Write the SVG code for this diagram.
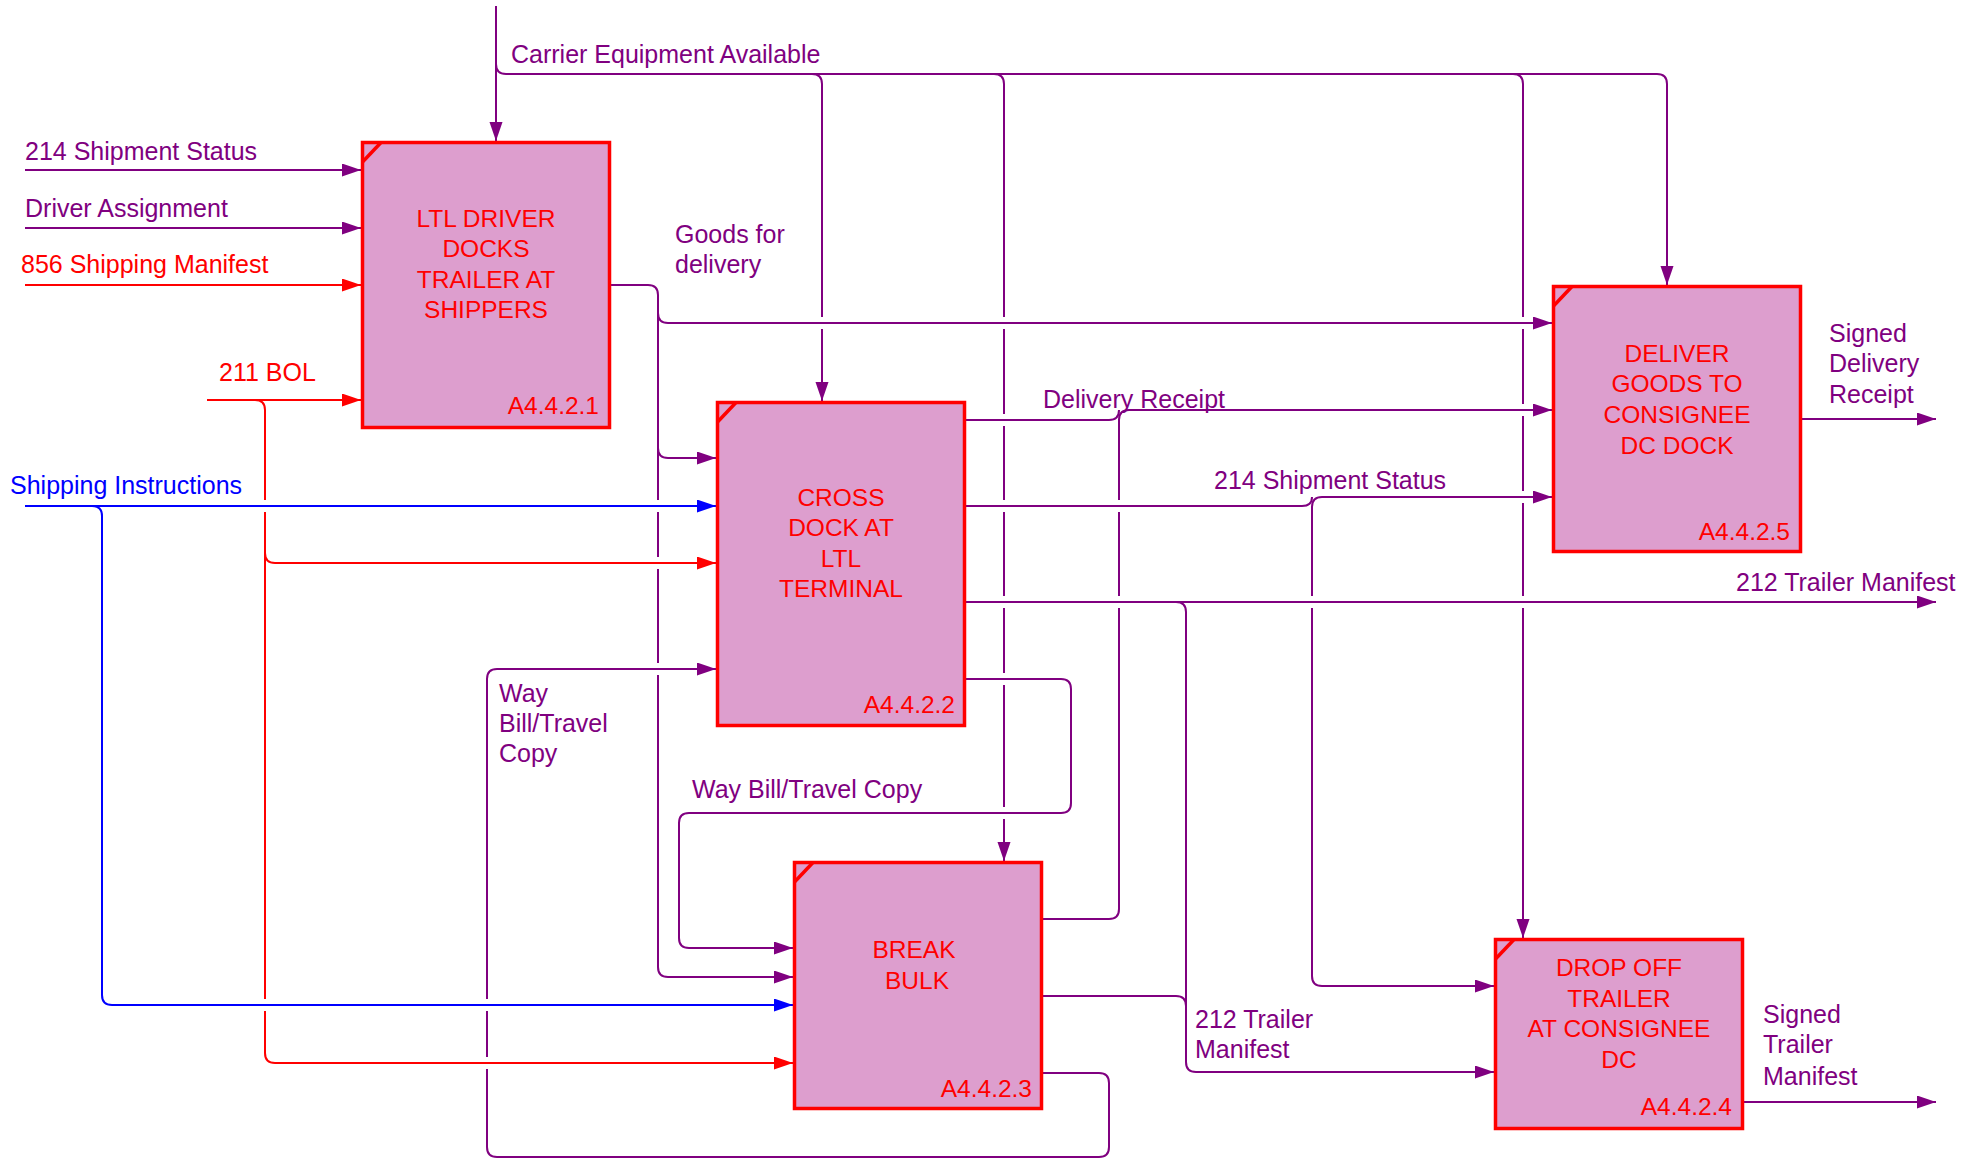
<svg xmlns="http://www.w3.org/2000/svg" width="1981" height="1159" viewBox="0 0 1981 1159">
<style>
.box{fill:#DD9ECE;stroke:#FF0000;stroke-width:3.5}
.cor{fill:none;stroke:#FF0000;stroke-width:3.5}
.bt{font-family:"Liberation Sans",Arial,sans-serif;font-size:24.5px;fill:#FF0000;text-anchor:middle}
.bn{font-family:"Liberation Sans",Arial,sans-serif;font-size:24.5px;fill:#FF0000;text-anchor:end}
.lb{font-family:"Liberation Sans",Arial,sans-serif;font-size:25px;fill:#800080}
.lr{fill:#FF0000}
.lbl{fill:#0000FF}
.p{fill:none;stroke:#800080;stroke-width:2}
.r{fill:none;stroke:#FF0000;stroke-width:2}
.b{fill:none;stroke:#0000FF;stroke-width:2}
.gap{stroke:#FFFFFF;stroke-width:5}
</style>
<defs>
<marker id="ap" markerUnits="userSpaceOnUse" markerWidth="20" markerHeight="14" refX="19" refY="6.5" orient="auto"><path d="M0,0 L19,6.5 L0,13 z" fill="#800080"/></marker>
<marker id="ar" markerUnits="userSpaceOnUse" markerWidth="20" markerHeight="14" refX="19" refY="6.5" orient="auto"><path d="M0,0 L19,6.5 L0,13 z" fill="#FF0000"/></marker>
<marker id="ab" markerUnits="userSpaceOnUse" markerWidth="20" markerHeight="14" refX="19" refY="6.5" orient="auto"><path d="M0,0 L19,6.5 L0,13 z" fill="#0000FF"/></marker>
</defs>
<rect width="1981" height="1159" fill="#FFFFFF"/>

<g id="connectors">
<!-- Carrier Equipment Available -->
<path class="p" d="M496,6 V141" marker-end="url(#ap)"/>
<path class="p" d="M496,64 Q496,74 506,74 H1657 Q1667,74 1667,84 V285" marker-end="url(#ap)"/>
<path class="p" d="M812,74 Q822,74 822,84 V401" marker-end="url(#ap)"/>
<path class="p" d="M994,74 Q1004,74 1004,84 V861" marker-end="url(#ap)"/>
<path class="p" d="M1513,74 Q1523,74 1523,84 V938" marker-end="url(#ap)"/>
<!-- Goods for delivery -->
<path class="p" d="M611,285 H648 Q658,285 658,295 V967 Q658,977 668,977 H793" marker-end="url(#ap)"/>
<path class="p" d="M658,313 Q658,323 668,323 H1552" marker-end="url(#ap)"/>
<path class="p" d="M658,448 Q658,458 668,458 H716" marker-end="url(#ap)"/>
<!-- Delivery Receipt -->
<path class="p" d="M965,420 H1109 Q1119,420 1119,410"/>
<path class="p" d="M1042,919 H1109 Q1119,919 1119,909 V420 Q1119,410 1129,410 H1552" marker-end="url(#ap)"/>
<!-- 214 Shipment Status out -->
<path class="p" d="M965,506 H1302 Q1312,506 1312,497"/>
<path class="p" d="M1312,507 Q1312,497 1322,497 H1552" marker-end="url(#ap)"/>
<path class="p" d="M1312,507 V976 Q1312,986 1322,986 H1494" marker-end="url(#ap)"/>
<!-- 212 Trailer Manifest -->
<path class="p" d="M965,602 H1936" marker-end="url(#ap)"/>
<path class="p" d="M1176,602 Q1186,602 1186,612 V1062 Q1186,1072 1196,1072 H1494" marker-end="url(#ap)"/>
<path class="p" d="M1042,996 H1176 Q1186,996 1186,1006"/>
<!-- Way Bill/Travel Copy -->
<path class="p" d="M965,679 H1061 Q1071,679 1071,689 V803 Q1071,813 1061,813 H689 Q679,813 679,823 V938 Q679,948 689,948 H793" marker-end="url(#ap)"/>
<path class="p" d="M1042,1073 H1099 Q1109,1073 1109,1083 V1147 Q1109,1157 1099,1157 H497 Q487,1157 487,1147 V679 Q487,669 497,669 H716" marker-end="url(#ap)"/>
<!-- Outputs -->
<path class="p" d="M1801,419 H1936" marker-end="url(#ap)"/>
<path class="p" d="M1743,1102 H1936" marker-end="url(#ap)"/>
<!-- Inputs -->
<path class="p" d="M25,170 H361" marker-end="url(#ap)"/>
<path class="p" d="M25,228 H361" marker-end="url(#ap)"/>
<path class="r" d="M25,285 H361" marker-end="url(#ar)"/>
<path class="r" d="M207,400 H361" marker-end="url(#ar)"/>
<path class="r" d="M255,400 Q265,400 265,410 V1053 Q265,1063 275,1063 H793" marker-end="url(#ar)"/>
<path class="r" d="M265,553 Q265,563 275,563 H716" marker-end="url(#ar)"/>
<path class="b" d="M25,506 H716" marker-end="url(#ab)"/>
<path class="b" d="M92,506 Q102,506 102,516 V995 Q102,1005 112,1005 H793" marker-end="url(#ab)"/>
<!-- crossing gaps -->
<g class="gap">
<line x1="265" y1="500" x2="265" y2="512"/>
<line x1="265" y1="999" x2="265" y2="1011"/>
<line x1="658" y1="500" x2="658" y2="512"/>
<line x1="658" y1="557" x2="658" y2="569"/>
<line x1="658" y1="663" x2="658" y2="675"/>
<line x1="822" y1="317" x2="822" y2="329"/>
<line x1="1004" y1="317" x2="1004" y2="329"/>
<line x1="1004" y1="414" x2="1004" y2="426"/>
<line x1="1004" y1="500" x2="1004" y2="512"/>
<line x1="1004" y1="596" x2="1004" y2="608"/>
<line x1="1004" y1="673" x2="1004" y2="685"/>
<line x1="1004" y1="807" x2="1004" y2="819"/>
<line x1="1119" y1="500" x2="1119" y2="512"/>
<line x1="1119" y1="596" x2="1119" y2="608"/>
<line x1="1312" y1="596" x2="1312" y2="608"/>
<line x1="1523" y1="317" x2="1523" y2="329"/>
<line x1="1523" y1="404" x2="1523" y2="416"/>
<line x1="1523" y1="491" x2="1523" y2="503"/>
<line x1="1523" y1="596" x2="1523" y2="608"/>
<line x1="487" y1="999" x2="487" y2="1011"/>
<line x1="487" y1="1057" x2="487" y2="1069"/>
</g>
<g stroke-width="2">
<line x1="260" y1="506" x2="270" y2="506" stroke="#0000FF"/>
<line x1="260" y1="1005" x2="270" y2="1005" stroke="#0000FF"/>
<line x1="653" y1="506" x2="663" y2="506" stroke="#0000FF"/>
<line x1="653" y1="563" x2="663" y2="563" stroke="#FF0000"/>
<line x1="653" y1="669" x2="663" y2="669" stroke="#800080"/>
<line x1="817" y1="323" x2="827" y2="323" stroke="#800080"/>
<line x1="999" y1="323" x2="1009" y2="323" stroke="#800080"/>
<line x1="999" y1="420" x2="1009" y2="420" stroke="#800080"/>
<line x1="999" y1="506" x2="1009" y2="506" stroke="#800080"/>
<line x1="999" y1="602" x2="1009" y2="602" stroke="#800080"/>
<line x1="999" y1="679" x2="1009" y2="679" stroke="#800080"/>
<line x1="999" y1="813" x2="1009" y2="813" stroke="#800080"/>
<line x1="1114" y1="506" x2="1124" y2="506" stroke="#800080"/>
<line x1="1114" y1="602" x2="1124" y2="602" stroke="#800080"/>
<line x1="1307" y1="602" x2="1317" y2="602" stroke="#800080"/>
<line x1="1518" y1="323" x2="1528" y2="323" stroke="#800080"/>
<line x1="1518" y1="410" x2="1528" y2="410" stroke="#800080"/>
<line x1="1518" y1="497" x2="1528" y2="497" stroke="#800080"/>
<line x1="1518" y1="602" x2="1528" y2="602" stroke="#800080"/>
<line x1="482" y1="1005" x2="492" y2="1005" stroke="#0000FF"/>
<line x1="482" y1="1063" x2="492" y2="1063" stroke="#FF0000"/>
</g>
</g>

<g id="labels">
<text class="lb" x="511" y="63">Carrier Equipment Available</text>
<text class="lb" x="25" y="160">214 Shipment Status</text>
<text class="lb" x="25" y="217">Driver Assignment</text>
<text class="lb lr" x="21" y="273">856 Shipping Manifest</text>
<text class="lb lr" x="219" y="381">211 BOL</text>
<text class="lb lbl" x="10" y="494">Shipping Instructions</text>
<text class="lb" x="675" y="243">Goods for</text>
<text class="lb" x="675" y="273">delivery</text>
<text class="lb" x="1043" y="408">Delivery Receipt</text>
<text class="lb" x="1214" y="489">214 Shipment Status</text>
<text class="lb" x="1736" y="591">212 Trailer Manifest</text>
<text class="lb" x="499" y="702">Way</text>
<text class="lb" x="499" y="732">Bill/Travel</text>
<text class="lb" x="499" y="762">Copy</text>
<text class="lb" x="692" y="798">Way Bill/Travel Copy</text>
<text class="lb" x="1195" y="1028">212 Trailer</text>
<text class="lb" x="1195" y="1058">Manifest</text>
<text class="lb" x="1829" y="342">Signed</text>
<text class="lb" x="1829" y="372">Delivery</text>
<text class="lb" x="1829" y="403">Receipt</text>
<text class="lb" x="1763" y="1023">Signed</text>
<text class="lb" x="1763" y="1053">Trailer</text>
<text class="lb" x="1763" y="1085">Manifest</text>
</g>

<g id="A4.4.2.1">
<rect class="box" x="362.5" y="142.5" width="247" height="285"/>
<path class="cor" d="M362.5,162 L381,142.5"/>
<text class="bt" x="486" y="227">LTL DRIVER</text>
<text class="bt" x="486" y="257">DOCKS</text>
<text class="bt" x="486" y="288">TRAILER AT</text>
<text class="bt" x="486" y="318">SHIPPERS</text>
<text class="bn" x="599" y="414">A4.4.2.1</text>
</g>
<g id="A4.4.2.2">
<rect class="box" x="717.5" y="402.5" width="247" height="323"/>
<path class="cor" d="M717.5,422 L736,402.5"/>
<text class="bt" x="841" y="506">CROSS</text>
<text class="bt" x="841" y="536">DOCK AT</text>
<text class="bt" x="841" y="567">LTL</text>
<text class="bt" x="841" y="597">TERMINAL</text>
<text class="bn" x="955" y="713">A4.4.2.2</text>
</g>
<g id="A4.4.2.3">
<rect class="box" x="794.5" y="862.5" width="247" height="246"/>
<path class="cor" d="M794.5,882 L813,862.5"/>
<text class="bt" x="914" y="958">BREAK</text>
<text class="bt" x="917" y="989">BULK</text>
<text class="bn" x="1032" y="1097">A4.4.2.3</text>
</g>
<g id="A4.4.2.4">
<rect class="box" x="1495.5" y="939.5" width="247" height="189"/>
<path class="cor" d="M1495.5,959 L1514,939.5"/>
<text class="bt" x="1619" y="976">DROP OFF</text>
<text class="bt" x="1619" y="1007">TRAILER</text>
<text class="bt" x="1619" y="1037">AT CONSIGNEE</text>
<text class="bt" x="1619" y="1068">DC</text>
<text class="bn" x="1732" y="1115">A4.4.2.4</text>
</g>
<g id="A4.4.2.5">
<rect class="box" x="1553.5" y="286.5" width="247" height="265"/>
<path class="cor" d="M1553.5,306 L1572,286.5"/>
<text class="bt" x="1677" y="362">DELIVER</text>
<text class="bt" x="1677" y="392">GOODS TO</text>
<text class="bt" x="1677" y="423">CONSIGNEE</text>
<text class="bt" x="1677" y="454">DC DOCK</text>
<text class="bn" x="1790" y="540">A4.4.2.5</text>
</g>
</svg>
